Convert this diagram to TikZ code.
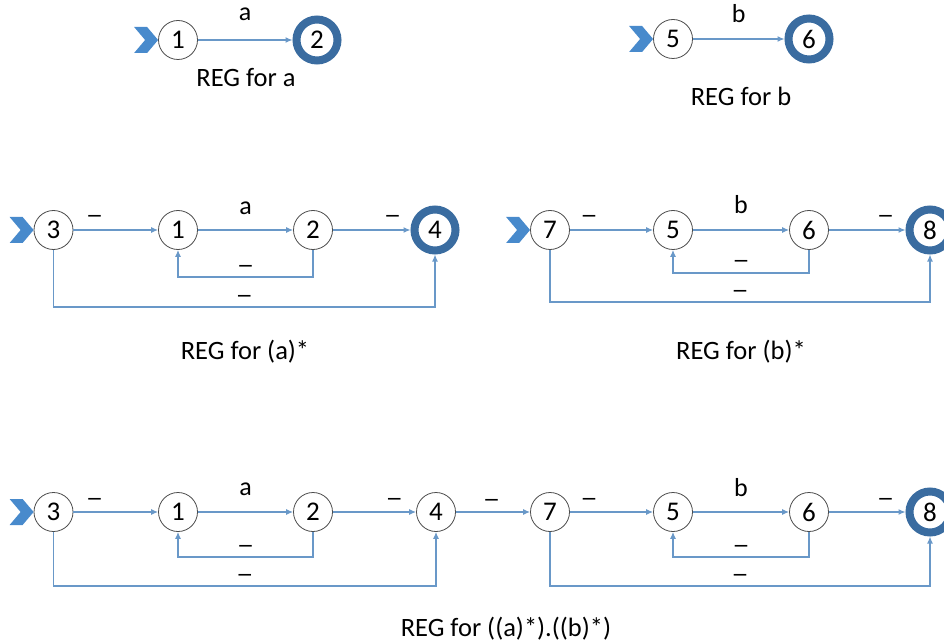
\documentclass[tikz,border=0pt]{standalone}
\usepackage{fontspec}
\setmainfont{Carlito}
\usetikzlibrary{arrows.meta,calc}
\definecolor{edgec}{RGB}{105,152,200}
\definecolor{ringc}{RGB}{58,108,160}
\definecolor{chevc}{RGB}{72,138,204}
\newcommand{\edash}{\scalebox{1.35}[1]{\textendash}}
\tikzset{
  st/.style={circle,draw=black!70,line width=0.8pt,minimum size=39pt,inner sep=0pt,fill=white,font=\fontsize{27}{27}\selectfont},
  fin/.style={st,draw=ringc,line width=8pt,minimum size=41pt},
  edge/.style={draw=edgec,line width=1.2pt,-{Latex[length=7pt,width=6pt]}},
  lbl/.style={font=\fontsize{26}{26}\selectfont,inner sep=0pt},
  dsh/.style={font=\fontsize{26}{26}\selectfont,inner sep=0pt,anchor=base},
  capt/.style={font=\fontsize{26.5}{26.5}\selectfont,inner sep=0pt},
  chev/.pic={\fill[chevc] (-24,-13) -- (-11,-13) -- (0,0) -- (-11,13) -- (-24,13) -- (-13,0) -- cycle;}
}
\begin{document}
\begin{tikzpicture}[x=1pt,y=-1pt]
\useasboundingbox (0,0) rectangle (944,644);
% ---------- row 1 ----------
\node[st] (p1) at (178,40) {1};
\node[fin] (p2) at (317,40) {2};
\pic at (p1.west) {chev};
\draw[edge] (p1) -- node[lbl,yshift=26pt]{a} (p2);
\node[capt] (c1) at (246,78) {REG for a};

\node[st] (q5) at (673,39) {5};
\node[fin] (q6) at (809,39) {6};
\pic at (q5.west) {chev};
\draw[edge] (q5) -- node[lbl,yshift=25pt]{b} (q6);
\node[capt] (c2) at (741,96) {REG for b};

% ---------- row 2 left ----------
\node[st] (r3) at (53.5,230) {3};
\node[st] (r1) at (178,230) {1};
\node[st] (r2) at (313,230) {2};
\node[fin] (r4) at (435,230) {4};
\pic at (r3.west) {chev};
\draw[edge] (r3) -- node[dsh,pos=.25,yshift=6pt]{\edash} (r1);
\draw[edge] (r1) -- node[lbl,yshift=22pt]{a} (r2);
\draw[edge] (r2) -- node[dsh,pos=.77,yshift=6pt]{\edash} (r4);
\draw[edge] (r2) -- ++(0,47) -| node[dsh,pos=.25,yshift=4pt]{\edash} (r1);
\draw[edge] (r3) -- ++(0,77) -| node[dsh,pos=.25,yshift=4pt]{\edash} (r4);
\node[capt] (c3) at (245,352) {REG for (a)*};

% ---------- row 2 right ----------
\node[st] (s7) at (550,230) {7};
\node[st] (s5) at (673,230) {5};
\node[st] (s6) at (809,230) {6};
\node[fin] (s8) at (930,230) {8};
\pic at (s7.west) {chev};
\draw[edge] (s7) -- node[dsh,pos=.23,yshift=6pt]{\edash} (s5);
\draw[edge] (s5) -- node[lbl,yshift=25pt]{b} (s6);
\draw[edge] (s6) -- node[dsh,pos=.74,yshift=6pt]{\edash} (s8);
\draw[edge] (s6) -- ++(0,43) -| node[dsh,pos=.25,yshift=4pt]{\edash} (s5);
\draw[edge] (s7) -- ++(0,72) -| node[dsh,pos=.25,yshift=4pt]{\edash} (s8);
\node[capt] (c4) at (741,352) {REG for (b)*};

% ---------- row 3 ----------
\node[st] (t3) at (53.5,512) {3};
\node[st] (t1) at (178,512) {1};
\node[st] (t2) at (313,512) {2};
\node[st] (t4) at (436,512) {4};
\node[st] (t7) at (550,512) {7};
\node[st] (t5) at (673,512) {5};
\node[st] (t6) at (809,512) {6};
\node[fin] (t8) at (930,512) {8};
\pic at (t3.west) {chev};
\draw[edge] (t3) -- node[dsh,pos=.25,yshift=6pt]{\edash} (t1);
\draw[edge] (t1) -- node[lbl,yshift=23pt]{a} (t2);
\draw[edge] (t2) -- node[dsh,pos=.74,yshift=6pt]{\edash} (t4);
\draw[edge] (t2) -- ++(0,45) -| node[dsh,pos=.25,yshift=4pt]{\edash} (t1);
\draw[edge] (t3) -- ++(0,74) -| node[dsh,pos=.25,yshift=4pt]{\edash} (t4);
\draw[edge] (t4) -- node[dsh,pos=.48,yshift=5pt]{\edash} (t7);
\draw[edge] (t7) -- node[dsh,pos=.23,yshift=6pt]{\edash} (t5);
\draw[edge] (t5) -- node[lbl,yshift=24pt]{b} (t6);
\draw[edge] (t6) -- node[dsh,pos=.74,yshift=6pt]{\edash} (t8);
\draw[edge] (t6) -- ++(0,45) -| node[dsh,pos=.25,yshift=4pt]{\edash} (t5);
\draw[edge] (t7) -- ++(0,74) -| node[dsh,pos=.25,yshift=4pt]{\edash} (t8);
\node[capt] (c5) at (506,629) {REG for ((a)*).((b)*)};
\end{tikzpicture}
\end{document}
